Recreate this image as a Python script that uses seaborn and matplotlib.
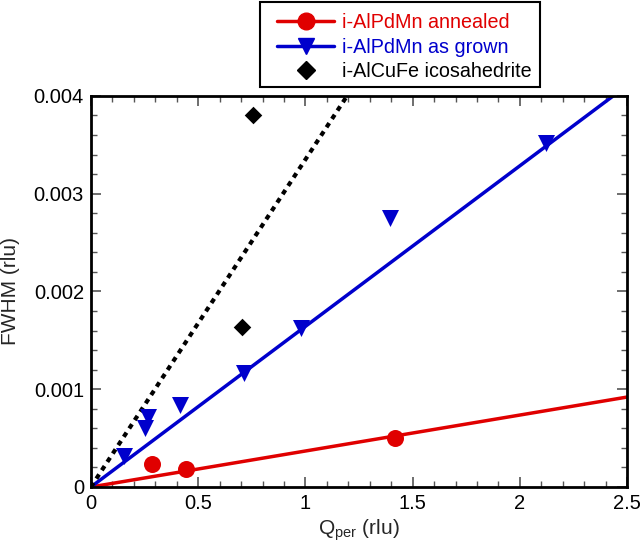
import numpy as np
import pandas as pd
import matplotlib
matplotlib.use("Agg")
import matplotlib.pyplot as plt
import seaborn as sns
from matplotlib.lines import Line2D
from matplotlib.patches import Rectangle
from matplotlib.ticker import MultipleLocator, FixedLocator, FixedFormatter

# ---- data ----
annealed_q = [0.285, 0.443, 1.418]
annealed_fwhm = [0.000235, 0.000184, 0.000500]
grown_q = [0.154, 0.252, 0.266, 0.415, 0.714, 0.980, 1.395, 2.122]
grown_fwhm = [0.00032, 0.00060, 0.00072, 0.00084, 0.00117, 0.00163, 0.00275, 0.00352]
alcufe_q = [0.704, 0.756]
alcufe_fwhm = [0.00164, 0.00380]
# slopes of fits through origin
slope_annealed = 0.000368
slope_grown = 0.001643
slope_alcufe = 0.00335
series_names = ["i-AlPdMn annealed", "i-AlPdMn as grown", "i-AlCuFe icosahedrite"]
x_ticks = [0, 0.5, 1, 1.5, 2, 2.5]
x_ticklabels = ["0", "0.5", "1", "1.5", "2", "2.5"]
y_ticks = [0, 0.001, 0.002, 0.003, 0.004]
y_ticklabels = ["0", "0.001", "0.002", "0.003", "0.004"]

sns.set_theme(style="ticks")
plt.rcParams['font.family'] = ['Liberation Sans', 'DejaVu Sans']
plt.rcParams['mathtext.fontset'] = 'custom'
plt.rcParams['mathtext.rm'] = 'Liberation Sans'
plt.rcParams['mathtext.it'] = 'Liberation Sans:italic'

W, H = 640, 542
fig = plt.figure(figsize=(6.4, 5.42), dpi=100)
ax = fig.add_axes([0.142, 0.1015, 0.838, 0.7215])

red = "#e00000"
blue = "#0000cc"

xfit = np.array([0.0, 2.5])
fits = pd.DataFrame({
    "q": np.concatenate([xfit, xfit, xfit]),
    "fwhm": np.concatenate([slope_annealed * xfit, slope_grown * xfit, slope_alcufe * xfit]),
    "series": [series_names[0]] * 2 + [series_names[1]] * 2 + [series_names[2]] * 2,
})
sns.lineplot(data=fits[fits.series == series_names[0]], x="q", y="fwhm", color=red, lw=2.5, ax=ax, legend=False)
sns.lineplot(data=fits[fits.series == series_names[1]], x="q", y="fwhm", color=blue, lw=2.5, ax=ax, legend=False)
sns.lineplot(data=fits[fits.series == series_names[2]], x="q", y="fwhm", color="black", lw=3, ax=ax, legend=False)
ax.lines[-1].set_dashes([1.2, 1.2])

sns.scatterplot(x=annealed_q, y=annealed_fwhm, marker="o", s=150, color=red, edgecolor=red, linewidth=0, ax=ax, zorder=5)
sns.scatterplot(x=grown_q, y=grown_fwhm, marker="v", s=150, color=blue, edgecolor=blue, linewidth=0, ax=ax, zorder=5)
sns.scatterplot(x=alcufe_q, y=alcufe_fwhm, marker="D", s=80, color="black", edgecolor="black", linewidth=0, ax=ax, zorder=5)

ax.set_xlim(0, 2.5)
ax.set_ylim(0, 0.004)
ax.xaxis.set_major_locator(FixedLocator(x_ticks))
ax.xaxis.set_major_formatter(FixedFormatter(x_ticklabels))
ax.yaxis.set_major_locator(FixedLocator(y_ticks))
ax.yaxis.set_major_formatter(FixedFormatter(y_ticklabels))
ax.xaxis.set_minor_locator(MultipleLocator(0.1))
ax.yaxis.set_minor_locator(MultipleLocator(0.0002))
ax.tick_params(which="both", direction="in", top=True, right=True, colors="#555555", labelcolor="black", labelsize=14.5)
ax.tick_params(which="major", length=7, width=1.2, pad=5)
ax.tick_params(which="minor", length=4, width=1.0)
for s in ax.spines.values():
    s.set_linewidth(2)
    s.set_color("black")

ax.set_xlabel(r"Q$_{\mathrm{per}}$ (rlu)", fontsize=15, labelpad=3)
ax.set_ylabel("FWHM (rlu)", fontsize=15, labelpad=10)

handles = [
    Line2D([], [], color=red, lw=2.5, marker="o", markersize=12),
    Line2D([], [], color=blue, lw=2.5, marker="v", markersize=12),
    Line2D([], [], color="none", marker="D", markersize=9, markerfacecolor="black", markeredgecolor="black"),
]
leg = fig.legend(handles, series_names, loc="upper left", bbox_to_anchor=(277 / W, 1 - 13 / H),
                 frameon=False, fontsize=14.2,
                 handlelength=2.9, handletextpad=0.4, borderpad=0, labelspacing=0.28,
                 borderaxespad=0)
for t, c in zip(leg.get_texts(), [red, blue, "black"]):
    t.set_color(c)
fig.add_artist(Rectangle((260 / W, 1 - 87 / H), 280 / W, 85 / H, transform=fig.transFigure,
                         fill=False, edgecolor="black", lw=1.5))

fig.savefig("out.png", dpi=100)
